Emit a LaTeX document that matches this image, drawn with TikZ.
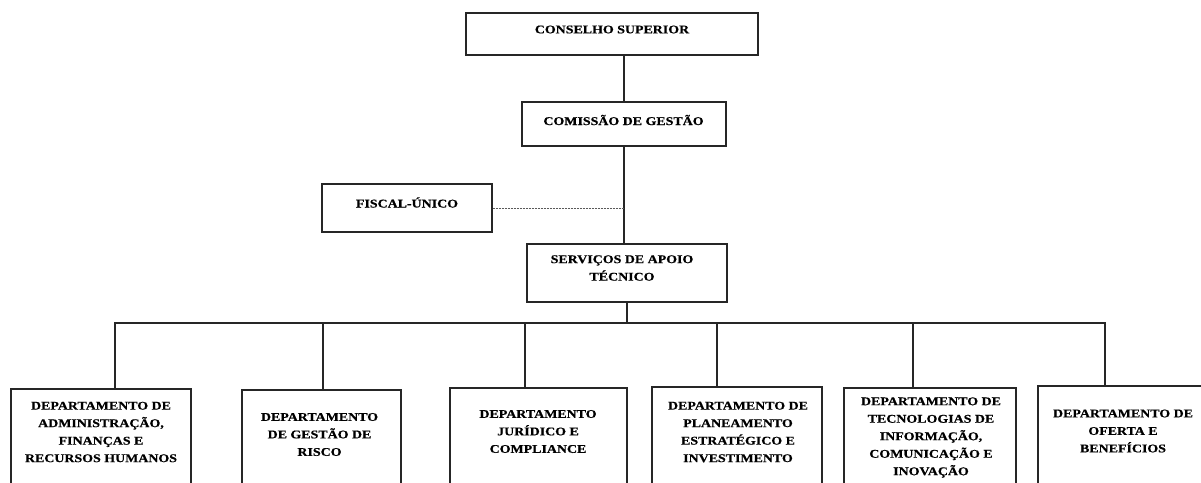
\documentclass[tikz,border=0pt]{standalone}
\usepackage{fontspec}
\newfontfamily\orgfont{Liberation Serif}[FakeStretch=1.18,FakeBold=0.6]
\begin{document}
\begin{tikzpicture}[x=1pt,y=-1pt,
  box/.style={draw=black!85, line width=1.2pt, rectangle, inner sep=0pt},
  lbl/.style={font=\orgfont\bfseries\fontsize{11.8}{17.5}\selectfont, align=center, inner sep=0pt, text=black},
  conn/.style={draw=black!85, line width=1.2pt},
  dashconn/.style={draw=black!65, line width=0.6pt, dash pattern=on 2pt off 1pt}]
\useasboundingbox (0,0) rectangle (1201,482);
\clip (0,0) rectangle (1201,482);
% upper boxes
\node[box, minimum width=292pt, minimum height=42pt] (cs) at (612,34) {};
\node[lbl] (cst) at (612,29.5) {CONSELHO SUPERIOR};
\node[box, minimum width=204pt, minimum height=44pt] (cg) at (624,124) {};
\node[lbl] (cgt) at (623.5,120) {COMISSÃO DE GESTÃO};
\node[box, minimum width=170pt, minimum height=48pt] (fu) at (407,208) {};
\node[lbl] (fut) at (407,202.5) {FISCAL-ÚNICO};
\node[box, minimum width=200pt, minimum height=58pt] (sat) at (627,273) {};
\node[lbl] (satt) at (622,268) {SERVIÇOS DE APOIO\\TÉCNICO};
% department boxes
\node[box, minimum width=180pt, minimum height=112pt] (d1) at (101,445) {};
\node[lbl] (d1t) at (101,432) {DEPARTAMENTO DE\\ADMINISTRAÇÃO,\\FINANÇAS E\\RECURSOS HUMANOS};
\node[box, minimum width=159pt, minimum height=112pt] (d2) at (321.5,446) {};
\node[lbl] (d2t) at (319.5,434.5) {DEPARTAMENTO\\DE GESTÃO DE\\RISCO};
\node[box, minimum width=177pt, minimum height=112pt] (d3) at (538.5,444) {};
\node[lbl] (d3t) at (538,431.5) {DEPARTAMENTO\\JURÍDICO E\\COMPLIANCE};
\node[box, minimum width=170pt, minimum height=112pt] (d4) at (737,443) {};
\node[lbl] (d4t) at (738,432) {DEPARTAMENTO DE\\PLANEAMENTO\\ESTRATÉGICO E\\INVESTIMENTO};
\node[box, minimum width=172pt, minimum height=112pt] (d5) at (930,444) {};
\node[lbl] (d5t) at (931,437.5) {DEPARTAMENTO DE\\TECNOLOGIAS DE\\INFORMAÇÃO,\\COMUNICAÇÃO E\\INOVAÇÃO};
\node[box, minimum width=170pt, minimum height=112pt] (d6) at (1123,442) {};
\node[lbl] (d6t) at (1123,431) {DEPARTAMENTO DE\\OFERTA E\\BENEFÍCIOS};
% bus coordinates
\coordinate (b1) at (115,323);
\coordinate (b2) at (323,323);
\coordinate (b3) at (525,323);
\coordinate (b4) at (717,323);
\coordinate (b5) at (913,323);
\coordinate (b6) at (1105,323);
% connectors
\draw[conn] (cs.south -| cg.north) -- (cg.north);
\draw[conn] (cg.south) -- (cg.south |- sat.north);
\draw[dashconn] (fu.east) -- (fu.east -| cg.south);
\draw[conn] (sat.south) -- (sat.south |- b1);
\draw[conn] (b1 |- d1.north) -- (b1) -- (b6) -- (b6 |- d6.north);
\draw[conn] (b2) -- (b2 |- d2.north);
\draw[conn] (b3) -- (b3 |- d3.north);
\draw[conn] (b4) -- (b4 |- d4.north);
\draw[conn] (b5) -- (b5 |- d5.north);
\end{tikzpicture}
\end{document}
